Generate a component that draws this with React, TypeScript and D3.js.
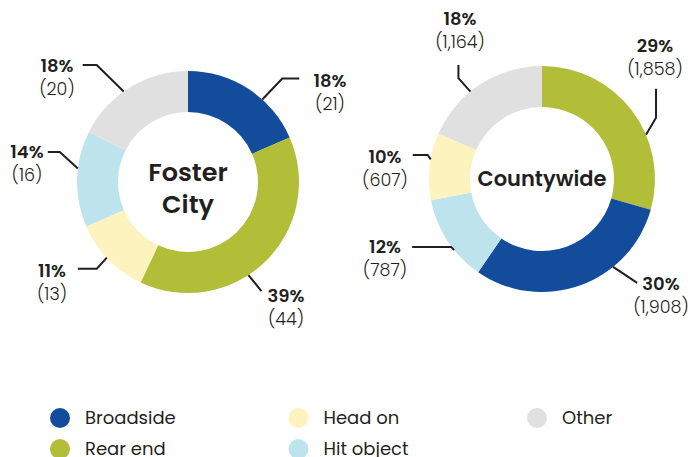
import React from "react";
import * as d3 from "d3";

const categories = ["Broadside", "Rear end", "Head on", "Hit object", "Other"];
const colors = ["#124c9b", "#b2be37", "#fcf3be", "#bde3ec", "#e0e0e0"];

// Foster City (clockwise from top)
const fosterOrder = ["Broadside", "Rear end", "Head on", "Hit object", "Other"];
const fosterValues = [21, 44, 13, 16, 20];

// Countywide (clockwise from top)
const countyOrder = ["Rear end", "Broadside", "Hit object", "Head on", "Other"];
const countyValues = [1858, 1908, 787, 607, 1164];

// Annotation layout (leader angle in degrees, offsets relative to anchor / center)
const fosterAnno = [
  { angle: 42, elbow: [20, -21], end: [37, -21], text: [142, -95] },
  { angle: 147, elbow: null, end: [13, 16], text: [98, 120] },
  { angle: 227, elbow: [-10, 11], end: [-29, 11], text: [-136, 95] },
  { angle: 277, elbow: [-18, -16.5], end: [-30, -16.5], text: [-161, -24] },
  { angle: 324.6, elbow: [-27, -26.5], end: [-41, -26.5], text: [-131, -110] },
];
const countyAnno = [
  { angle: 67, elbow: [10, -17], end: [10, -46], text: [113, -127] },
  { angle: 141, elbow: null, end: [24, 16], text: [119, 111] },
  { angle: 231, elbow: [-3, -3], end: [-42, -3], text: [-157, 74] },
  { angle: 280, elbow: [-3, -4.5], end: [-18, -4.5], text: [-157, -16] },
  { angle: 320.7, elbow: [-12, -13.5], end: [-12, -26.5], text: [-82, -154] },
];

const FONT = "Poppins, 'Open Sans', sans-serif";
const TEXT = "#231f20";

const color = d3.scaleOrdinal<string, string>().domain(categories).range(colors);

function Donut({ cx, cy, outer, inner, order, values, anno, title }: any) {
  const total = d3.sum(values as number[]);
  const pie = d3.pie<number>().sort(null).value((d) => d);
  const arcs = pie(values);
  const arc = d3.arc<any>().innerRadius(inner).outerRadius(outer);
  const fmt = d3.format(",");
  return (
    <g transform={`translate(${cx},${cy})`}>
      {arcs.map((a, i) => (
        <path key={i} d={arc(a) as string} fill={color(order[i])} />
      ))}
      {arcs.map((a, i) => {
        const an = anno[i];
        const rad = (an.angle * Math.PI) / 180;
        const x0 = outer * Math.sin(rad);
        const y0 = -outer * Math.cos(rad);
        const pts: [number, number][] = [[x0, y0]];
        if (an.elbow) pts.push([x0 + an.elbow[0], y0 + an.elbow[1]]);
        pts.push([x0 + an.end[0], y0 + an.end[1]]);
        const line = d3.line()(pts) as string;
        const pct = Math.round((values[i] / total) * 100);
        return (
          <g key={"a" + i}>
            <path d={line} fill="none" stroke={TEXT} strokeWidth={2} />
            <text
              x={an.text[0]}
              y={an.text[1]}
              textAnchor="middle"
              fontFamily={FONT}
              fontWeight={600}
              fontSize={18}
              fill={TEXT}
            >
              {pct}%
            </text>
            <text
              x={an.text[0]}
              y={an.text[1] + 23}
              textAnchor="middle"
              fontFamily={FONT}
              fontWeight={300}
              fontSize={17.5}
              fill={TEXT}
            >
              ({fmt(values[i])})
            </text>
          </g>
        );
      })}
      {title}
    </g>
  );
}

export default function App() {
  const legendX = d3.scaleLinear().domain([0, 2]).range([60, 537]);
  const legendY = d3.scaleLinear().domain([0, 1]).range([418, 449]);
  return (
    <svg
      width={698}
      height={457}
      style={{ position: "absolute", left: 0, top: 0, background: "#fff" }}
    >
      <Donut
        cx={188}
        cy={182}
        outer={111}
        inner={70}
        order={fosterOrder}
        values={fosterValues}
        anno={fosterAnno}
        title={
          <text textAnchor="middle" fontFamily={FONT} fontWeight={600} fontSize={25.5} fill={TEXT}>
            <tspan x={0} y={-1}>Foster</tspan>
            <tspan x={0} y={31}>City</tspan>
          </text>
        }
      />
      <Donut
        cx={542}
        cy={179}
        outer={113}
        inner={72}
        order={countyOrder}
        values={countyValues}
        anno={countyAnno}
        title={
          <text x={0} y={7} textAnchor="middle" fontFamily={FONT} fontWeight={600} fontSize={21} fill={TEXT}>
            Countywide
          </text>
        }
      />
      {categories.map((c, i) => {
        const col = Math.floor(i / 2);
        const row = i % 2;
        const x = legendX(col);
        const y = legendY(row);
        return (
          <g key={c}>
            <circle cx={x} cy={y} r={10} fill={color(c)} />
            <text x={x + 25} y={y + 6} fontFamily={FONT} fontSize={18} fill={TEXT}>
              {c}
            </text>
          </g>
        );
      })}
    </svg>
  );
}
